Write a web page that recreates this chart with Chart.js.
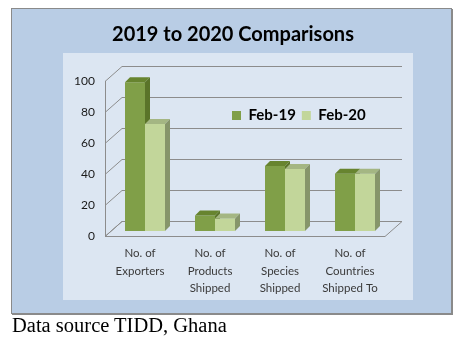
<!DOCTYPE html>
<html>
<head>
<meta charset="utf-8">
<script src="https://cdn.jsdelivr.net/npm/chart.js@4.4.1/dist/chart.umd.min.js"></script>
<style>
  body { margin: 0; background: #fff; }
  #frame { position: absolute; left: 11px; top: 8px; width: 439px; height: 304px; background: #b9cde5; border: 1px solid #8a8a8a; box-shadow: 1px 1px 0 #8a8a8a; }
  #panel { position: absolute; left: 63px; top: 53px; width: 350px; height: 247px; background: #dce6f2; }
  #chart { position: absolute; left: 0; top: 0; }
  #note { position: absolute; left: 12px; top: 315px; font: 20.5px/1 "Liberation Serif", "Times New Roman", serif; color: #000; white-space: nowrap; }
</style>
</head>
<body>
<div id="frame"></div>
<div id="panel"></div>
<canvas id="chart" width="466" height="343"></canvas>
<div id="note">Data source TIDD, Ghana</div>
<script>
const categories = [
  ['No. of', 'Exporters'],
  ['No. of', 'Products', 'Shipped'],
  ['No. of', 'Species', 'Shipped'],
  ['No. of', 'Countries', 'Shipped To']
];
const feb19 = [96, 10, 42, 37];
const feb20 = [69, 8, 40, 37];
const yTicks = [0, 20, 40, 60, 80, 100];

const DEPTH = 5;        // bar depth offset
const WALL_X = 17, WALL_Y = 15;

const shades = [
  { front: '#809f48', top: '#67842f', side: '#5a7429' },
  { front: '#c2d69a', top: '#a4b683', side: '#86956a' }
];

function drawFaces(ctx, el, col) {
  const { x, y, width, base } = el.getProps(['x', 'y', 'width', 'base'], true);
  const l = x - width / 2, r = x + width / 2;
  ctx.fillStyle = col.top;
  ctx.beginPath();
  ctx.moveTo(l, y); ctx.lineTo(l + DEPTH, y - DEPTH);
  ctx.lineTo(r + DEPTH, y - DEPTH); ctx.lineTo(r, y);
  ctx.closePath(); ctx.fill();
  ctx.fillStyle = col.side;
  ctx.beginPath();
  ctx.moveTo(r, y); ctx.lineTo(r + DEPTH, y - DEPTH);
  ctx.lineTo(r + DEPTH, base - DEPTH); ctx.lineTo(r, base);
  ctx.closePath(); ctx.fill();
}

const box3d = {
  id: 'box3d',
  afterLayout(chart) {
    // legend sits inside the plot panel
    const lg = chart.legend;
    lg.left = 226;
    lg.right = 430;
    lg.top = 102;
    lg.bottom = lg.top + lg.height;
  },
  beforeDatasetsDraw(chart) {
    const { ctx, chartArea: a, scales: { y } } = chart;
    ctx.save();
    ctx.strokeStyle = '#8c8c8c';
    ctx.lineWidth = 1;
    // floor
    ctx.fillStyle = '#dce6f2';
    ctx.beginPath();
    ctx.moveTo(a.left, a.bottom + 0.5);
    ctx.lineTo(a.right, a.bottom + 0.5);
    ctx.lineTo(a.right + WALL_X, a.bottom - WALL_Y + 0.5);
    ctx.lineTo(a.left + WALL_X, a.bottom - WALL_Y + 0.5);
    ctx.closePath();
    ctx.fill(); ctx.stroke();
    // back wall grid + side wall
    yTicks.forEach(v => {
      const py = Math.round(y.getPixelForValue(v)) + 0.5;
      ctx.beginPath();
      ctx.moveTo(a.left, py);
      ctx.lineTo(a.left + WALL_X, py - WALL_Y);
      ctx.lineTo(a.right + WALL_X, py - WALL_Y);
      ctx.stroke();
    });
    ctx.beginPath();
    ctx.moveTo(a.left + 0.5, a.top);
    ctx.lineTo(a.left + 0.5, a.bottom);
    ctx.stroke();
    ctx.restore();
    ctx.save();
    ctx.translate(5, -5);
  },
  afterDatasetsDraw(chart) {
    const ctx = chart.ctx;
    chart.getDatasetMeta(0).data.forEach(el => drawFaces(ctx, el, shades[0]));
    chart.getDatasetMeta(1).data.forEach(el => {
      el.draw(ctx);
      drawFaces(ctx, el, shades[1]);
    });
    ctx.restore();
  }
};

new Chart(document.getElementById('chart'), {
  type: 'bar',
  data: {
    labels: categories,
    datasets: [
      { label: 'Feb-19', data: feb19, backgroundColor: shades[0].front, clip: false },
      { label: 'Feb-20', data: feb20, backgroundColor: shades[1].front, clip: false }
    ]
  },
  options: {
    responsive: false,
    animation: false,
    categoryPercentage: 40 / 70,
    barPercentage: 1,
    layout: { padding: 0 },
    scales: {
      x: {
        grid: { display: false, drawTicks: false },
        border: { display: false },
        ticks: {
          color: '#3a3a3a',
          padding: 9,
          maxRotation: 0,
          autoSkip: false,
          font: { family: 'Lato', size: 11.5, lineHeight: 1.52 }
        },
        afterFit: s => { s.height = 107; }
      },
      y: {
        min: yTicks[0],
        max: yTicks[yTicks.length - 1],
        grid: { display: false, drawTicks: false },
        border: { display: false },
        ticks: {
          stepSize: 20,
          padding: 10,
          color: '#1a1a1a',
          font: { family: 'Lato', size: 12 }
        },
        afterFit: s => { s.width = 105; }
      },
      y2: {
        type: 'linear',
        position: 'right',
        grid: { display: false },
        border: { display: false },
        ticks: { display: false },
        afterFit: s => { s.width = 81; }
      }
    },
    plugins: {
      title: {
        display: true,
        text: '2019 to 2020 Comparisons',
        color: '#000',
        font: { family: 'Lato', size: 20, weight: 'bold' },
        padding: { top: 23, bottom: 3 }
      },
      legend: {
        position: 'top',
        align: 'start',
        labels: {
          boxWidth: 9,
          boxHeight: 9,
          padding: 6,
          color: '#000',
          font: { family: 'Lato', size: 15, weight: 'bold' }
        }
      },
      tooltip: { enabled: false }
    }
  },
  plugins: [box3d]
});
</script>
</body>
</html>
